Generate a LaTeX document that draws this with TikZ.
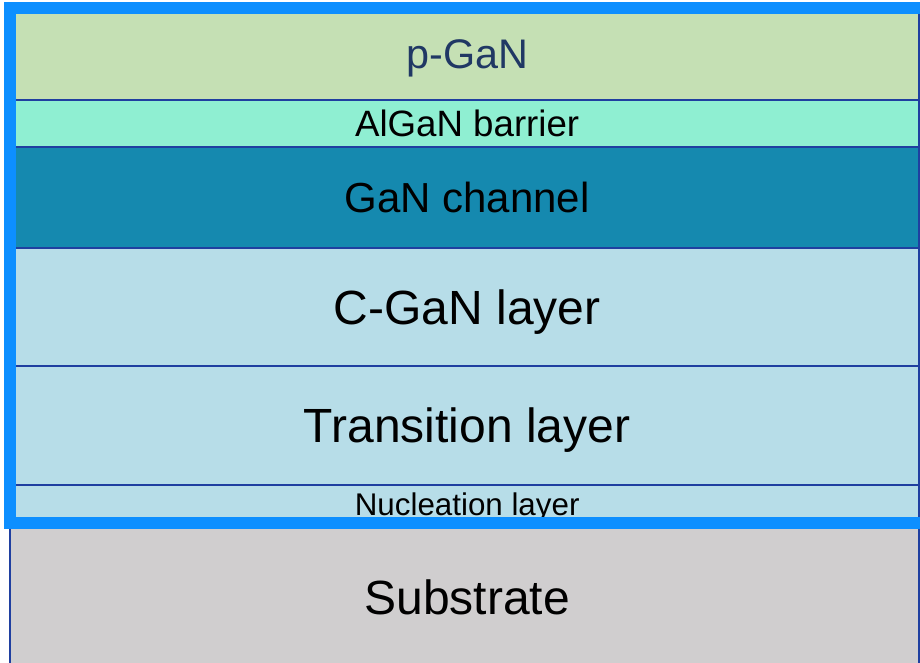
\documentclass[tikz,border=0pt]{standalone}
\usepackage{fontspec}
\setmainfont{Liberation Sans}
\usepackage{xcolor}
\definecolor{pganGreen}{HTML}{C5E0B4}
\definecolor{alganAqua}{HTML}{8FEFD2}
\definecolor{channelTeal}{HTML}{1589AF}
\definecolor{bufferBlue}{HTML}{B7DDE8}
\definecolor{substrateGray}{HTML}{D0CECF}
\definecolor{edgeBlue}{HTML}{1F3FA0}
\definecolor{frameBlue}{HTML}{0D8FFF}
\definecolor{textNavy}{HTML}{203864}
\usetikzlibrary{positioning}

\begin{document}
\begin{tikzpicture}[
        x=0.75pt, y=-0.75pt,
        layerBox/.style={
            draw=edgeBlue,
            line width=1.5pt,
            rectangle,
            outer sep=0pt,
            inner sep=0pt,
            minimum width=681.75pt,
            text depth=0pt,
            text=black
        },
        layerText/.style={
            font=\fontsize{#1}{#1}\selectfont,
            text height=#1pt*0.716
        },
        frameLine/.style={
            draw=frameBlue,
            line width=9pt
        }
    ]
    \useasboundingbox (0,0) rectangle (920,662);

    % Layer stack, top to bottom
    \node[layerBox, fill=pganGreen, minimum height=69pt, anchor=north west,
          layerText=31, text=textNavy] (pgan) at (10,8) {\hspace{4pt}p-GaN};
    \node[layerBox, fill=alganAqua, minimum height=35.25pt, below=0pt of pgan,
          layerText=27.5] (algan) {\hspace{4pt}AlGaN barrier};
    \node[layerBox, fill=channelTeal, minimum height=75.75pt, below=0pt of algan,
          layerText=31.5] (channel) {\hspace{4pt}GaN channel};
    \node[layerBox, fill=bufferBlue, minimum height=88.5pt, below=0pt of channel,
          layerText=36] (cgan) {\hspace{4pt}C-GaN layer};
    \node[layerBox, fill=bufferBlue, minimum height=89.25pt, below=0pt of cgan,
          layerText=36] (transition) {\hspace{4pt}Transition layer};
    \node[layerBox, fill=bufferBlue, minimum height=28.5pt, below=0pt of transition,
          layerText=23.5] (nucleation) {\hspace{4pt}Nucleation layer};
    \node[layerBox, fill=substrateGray, minimum height=111.75pt, below=0pt of nucleation,
          layerText=36] (substrate) {\hspace{4pt}Substrate};

    % Epitaxial frame
    \draw[frameLine] (pgan.north west) rectangle (nucleation.south east -| 926,0);
\end{tikzpicture}
\end{document}
